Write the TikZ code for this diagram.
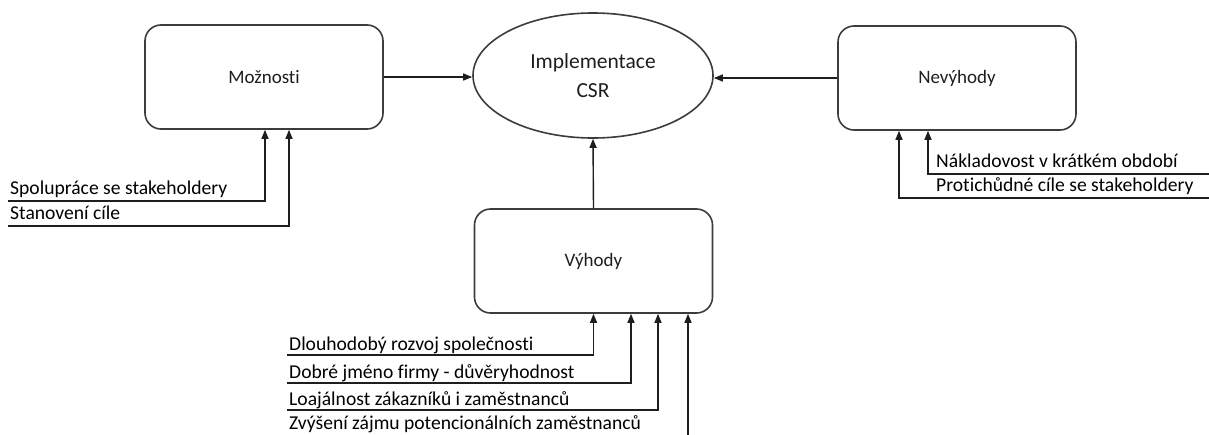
\documentclass[tikz,border=0pt]{standalone}
\usepackage{fontspec}
\setmainfont[Ligatures={NoCommon,NoRequired,NoContextual}]{Carlito}
\usetikzlibrary{arrows.meta,shapes.geometric}
\definecolor{ink}{HTML}{1E1E1E}
\definecolor{edge}{HTML}{3C3C3C}
\tikzset{
  box/.style={draw=edge, line width=1.6pt, rounded corners=16pt, fill=white,
    minimum width=238pt, minimum height=104pt, inner sep=0pt,
    font=\fontsize{19}{22}\selectfont, text=ink},
  goal/.style={draw=edge, line width=1.6pt, ellipse, minimum width=240pt,
    minimum height=125pt, inner sep=0pt, align=center,
    font=\fontsize{21.5}{29}\selectfont, text=ink},
  lbl/.style={anchor=base west, inner sep=0pt, font=\fontsize{19.6}{22}\selectfont, text=black},
  arr/.style={draw=ink, line width=1.4pt, -{Triangle[length=9pt,width=7pt]}},
  feed/.style={draw=ink, line width=1.4pt, -{Triangle[length=9pt,width=7pt]}, rounded corners=0pt}
}
\begin{document}
\begin{tikzpicture}[x=1pt,y=-1pt]
\useasboundingbox (0,0) rectangle (1209,434);

% main elements
\node[box]  (opt) at (264,77)   {Možnosti};
\node[goal] (csr) at (593,75.5) {Implementace\\CSR};
\node[box]  (dis) at (957,78)   {Nevýhody};
\node[box]  (adv) at (593.5,261) {Výhody};

% arrows into the goal
\draw[arr] (opt.east) -- (opt.east -| csr.west);
\draw[arr] (dis.west) -- (dis.west -| csr.east);
\draw[arr] (adv.north) -- (csr.south);

% options
\node[lbl] (o1) at (10,194) {Spolupráce se stakeholdery};
\node[lbl] (o2) at (10,219) {Stanovení cíle};
\coordinate (o1s) at (8,201);
\coordinate (o2s) at (8,226);
\draw[feed] (o1s) -| ([xshift=1pt]opt.south);
\draw[feed] (o2s) -| ([xshift=25pt]opt.south);

% disadvantages
\node[lbl] (d1) at (936,167) {Nákladovost v krátkém období};
\node[lbl] (d2) at (936,191) {Protichůdné cíle se stakeholdery};
\coordinate (d1s) at (1209,174);
\coordinate (d2s) at (1209,198);
\draw[feed] (d1s) -| ([xshift=-29pt]dis.south);
\draw[feed] (d2s) -| ([xshift=-58pt]dis.south);

% advantages
\node[lbl] (a1) at (289,350) {Dlouhodobý rozvoj společnosti};
\node[lbl] (a2) at (289,378) {Dobré jméno firmy - důvěryhodnost};
\node[lbl] (a3) at (289,405) {Loajálnost zákazníků i zaměstnanců};
\node[lbl] (a4) at (289,429) {Zvýšení zájmu potencionálních zaměstnanců};
\coordinate (a1s) at (287,355);
\coordinate (a2s) at (287,383);
\coordinate (a3s) at (287,410);
\coordinate (a4s) at (688,436);
\draw[feed] (a1s) -| (adv.south);
\draw[feed] (a2s) -| ([xshift=37.5pt]adv.south);
\draw[feed] (a3s) -| ([xshift=64.5pt]adv.south);
\draw[feed] (a4s) -- (a4s |- adv.south);
\end{tikzpicture}
\end{document}
